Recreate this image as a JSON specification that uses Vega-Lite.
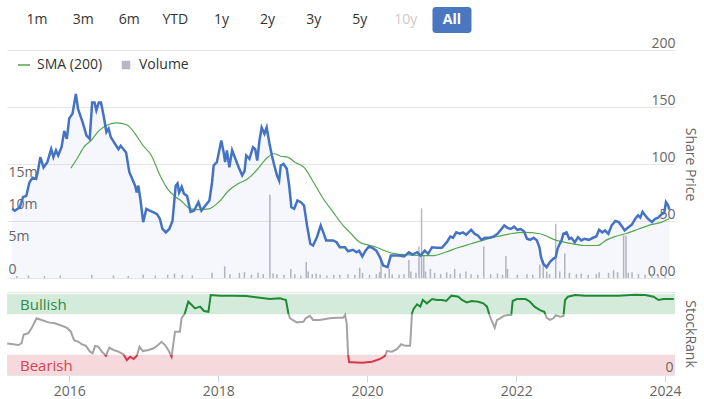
{
  "$schema": "https://vega.github.io/schema/vega-lite/v6.json",
  "padding": {"left": 3, "top": 7, "right": 5, "bottom": 0},
  "bounds": "flush",
  "config": {
    "font": "Open Sans",
    "view": {"stroke": null},
    "axis": {"labelColor": "#666666", "titleColor": "#666666", "labelFontSize": 14, "titleFontSize": 14, "titleFontWeight": "normal"}
  },
  "resolve": {"scale": {"color": "independent", "x": "independent", "y": "independent"}, "legend": {"color": "independent"}},
  "datasets": {
    "buttons": [{"label": "1m"}, {"label": "3m"}, {"label": "6m"}, {"label": "YTD"}, {"label": "1y"}, {"label": "2y"}, {"label": "3y"}, {"label": "5y"}, {"label": "10y"}, {"label": "All"}],
    "bands": [{"zone": "Bullish", "lo": 75, "hi": 100}, {"zone": "Bearish", "lo": 0, "hi": 25}],
    "price": [
      {"date": "2015-03-03", "close": 60.7}, {"date": "2015-03-16", "close": 59}, {"date": "2015-04-10", "close": 62}, {"date": "2015-04-26", "close": 71},
      {"date": "2015-05-12", "close": 72}, {"date": "2015-05-28", "close": 84}, {"date": "2015-06-13", "close": 88}, {"date": "2015-06-30", "close": 87},
      {"date": "2015-07-07", "close": 92}, {"date": "2015-07-21", "close": 106}, {"date": "2015-08-06", "close": 97}, {"date": "2015-08-25", "close": 101.6},
      {"date": "2015-09-13", "close": 113}, {"date": "2015-09-24", "close": 106}, {"date": "2015-10-07", "close": 112}, {"date": "2015-10-18", "close": 107.5},
      {"date": "2015-11-04", "close": 115}, {"date": "2015-11-17", "close": 129}, {"date": "2015-11-30", "close": 122}, {"date": "2015-12-12", "close": 140},
      {"date": "2015-12-28", "close": 144}, {"date": "2016-01-14", "close": 161.5}, {"date": "2016-01-25", "close": 148}, {"date": "2016-02-16", "close": 137},
      {"date": "2016-03-07", "close": 125}, {"date": "2016-03-23", "close": 122}, {"date": "2016-04-04", "close": 154}, {"date": "2016-04-16", "close": 154},
      {"date": "2016-04-25", "close": 147}, {"date": "2016-05-07", "close": 154}, {"date": "2016-05-18", "close": 154}, {"date": "2016-05-31", "close": 142.5},
      {"date": "2016-06-14", "close": 128}, {"date": "2016-06-25", "close": 131}, {"date": "2016-07-06", "close": 123.5}, {"date": "2016-07-27", "close": 117.7},
      {"date": "2016-08-13", "close": 113}, {"date": "2016-08-24", "close": 116}, {"date": "2016-09-07", "close": 113}, {"date": "2016-09-20", "close": 110},
      {"date": "2016-10-06", "close": 93}, {"date": "2016-10-17", "close": 88.4}, {"date": "2016-11-04", "close": 81}, {"date": "2016-11-12", "close": 75},
      {"date": "2016-11-20", "close": 81}, {"date": "2016-12-01", "close": 68}, {"date": "2016-12-14", "close": 49}, {"date": "2016-12-30", "close": 60.7},
      {"date": "2017-01-16", "close": 59}, {"date": "2017-02-02", "close": 57.7}, {"date": "2017-02-21", "close": 56}, {"date": "2017-03-07", "close": 52},
      {"date": "2017-03-20", "close": 43}, {"date": "2017-04-06", "close": 40}, {"date": "2017-04-23", "close": 43}, {"date": "2017-05-09", "close": 50},
      {"date": "2017-05-25", "close": 81}, {"date": "2017-06-03", "close": 83}, {"date": "2017-06-11", "close": 75}, {"date": "2017-06-24", "close": 80},
      {"date": "2017-07-05", "close": 74}, {"date": "2017-07-21", "close": 72}, {"date": "2017-08-07", "close": 58}, {"date": "2017-08-24", "close": 59},
      {"date": "2017-09-15", "close": 66.5}, {"date": "2017-09-30", "close": 59}, {"date": "2017-10-20", "close": 63.6}, {"date": "2017-11-09", "close": 68},
      {"date": "2017-11-22", "close": 84}, {"date": "2017-11-30", "close": 98.7}, {"date": "2017-12-16", "close": 101.6}, {"date": "2018-01-07", "close": 120.6},
      {"date": "2018-01-19", "close": 110}, {"date": "2018-01-26", "close": 101.6}, {"date": "2018-02-04", "close": 112}, {"date": "2018-02-16", "close": 97},
      {"date": "2018-03-02", "close": 112}, {"date": "2018-03-18", "close": 104.6}, {"date": "2018-04-04", "close": 97}, {"date": "2018-04-21", "close": 90},
      {"date": "2018-05-03", "close": 94}, {"date": "2018-05-11", "close": 107.5}, {"date": "2018-05-27", "close": 104.6}, {"date": "2018-06-14", "close": 114.7},
      {"date": "2018-06-25", "close": 113}, {"date": "2018-07-05", "close": 103}, {"date": "2018-07-16", "close": 120.6}, {"date": "2018-07-27", "close": 132},
      {"date": "2018-08-10", "close": 126.5}, {"date": "2018-08-21", "close": 132}, {"date": "2018-09-04", "close": 117.7}, {"date": "2018-09-16", "close": 107.5},
      {"date": "2018-09-28", "close": 98.7}, {"date": "2018-10-11", "close": 90}, {"date": "2018-10-22", "close": 85.5}, {"date": "2018-10-30", "close": 98.7},
      {"date": "2018-11-13", "close": 100}, {"date": "2018-11-29", "close": 95.8}, {"date": "2018-12-11", "close": 81}, {"date": "2018-12-22", "close": 62},
      {"date": "2019-01-05", "close": 60.7}, {"date": "2019-01-21", "close": 68}, {"date": "2019-02-07", "close": 66.5}, {"date": "2019-02-23", "close": 63.6},
      {"date": "2019-03-10", "close": 46}, {"date": "2019-03-26", "close": 30}, {"date": "2019-04-09", "close": 28.5}, {"date": "2019-04-28", "close": 35.8},
      {"date": "2019-05-17", "close": 46}, {"date": "2019-05-30", "close": 40}, {"date": "2019-06-13", "close": 33}, {"date": "2019-07-18", "close": 33},
      {"date": "2019-08-04", "close": 31.4}, {"date": "2019-08-20", "close": 27}, {"date": "2019-09-15", "close": 27}, {"date": "2019-09-30", "close": 23.5},
      {"date": "2019-10-25", "close": 24.7}, {"date": "2019-11-11", "close": 22.6}, {"date": "2019-11-24", "close": 24}, {"date": "2019-12-10", "close": 18.9},
      {"date": "2019-12-26", "close": 24}, {"date": "2020-01-12", "close": 27.6}, {"date": "2020-01-29", "close": 26.5}, {"date": "2020-02-18", "close": 24},
      {"date": "2020-03-07", "close": 18.2}, {"date": "2020-03-23", "close": 11}, {"date": "2020-04-14", "close": 9.5}, {"date": "2020-04-30", "close": 19.7},
      {"date": "2020-05-16", "close": 19.7}, {"date": "2020-06-10", "close": 19.7}, {"date": "2020-07-05", "close": 19}, {"date": "2020-07-29", "close": 22.6},
      {"date": "2020-08-15", "close": 20.6}, {"date": "2020-09-09", "close": 22.6}, {"date": "2020-09-25", "close": 19.7}, {"date": "2020-10-16", "close": 24},
      {"date": "2020-11-02", "close": 21.2}, {"date": "2020-11-21", "close": 27}, {"date": "2020-12-15", "close": 26.5}, {"date": "2021-01-09", "close": 26.5},
      {"date": "2021-02-03", "close": 31.4}, {"date": "2021-02-20", "close": 36.4}, {"date": "2021-03-06", "close": 35.3}, {"date": "2021-03-22", "close": 40},
      {"date": "2021-04-08", "close": 38.8}, {"date": "2021-04-24", "close": 40}, {"date": "2021-05-10", "close": 38}, {"date": "2021-06-04", "close": 42.3},
      {"date": "2021-06-21", "close": 38.8}, {"date": "2021-07-07", "close": 37.3}, {"date": "2021-07-26", "close": 33.5}, {"date": "2021-08-12", "close": 35.3},
      {"date": "2021-09-03", "close": 35.3}, {"date": "2021-09-24", "close": 36.4}, {"date": "2021-10-13", "close": 38.8}, {"date": "2021-10-30", "close": 42.3},
      {"date": "2021-11-16", "close": 46}, {"date": "2021-12-02", "close": 44}, {"date": "2021-12-18", "close": 43}, {"date": "2022-01-04", "close": 45},
      {"date": "2022-01-20", "close": 42.3}, {"date": "2022-02-06", "close": 43}, {"date": "2022-02-22", "close": 41}, {"date": "2022-03-09", "close": 34.4},
      {"date": "2022-03-25", "close": 33.5}, {"date": "2022-04-11", "close": 35.3}, {"date": "2022-04-27", "close": 33}, {"date": "2022-05-10", "close": 27},
      {"date": "2022-05-18", "close": 18.2}, {"date": "2022-05-29", "close": 12.5}, {"date": "2022-06-15", "close": 9.5}, {"date": "2022-07-01", "close": 13.9},
      {"date": "2022-07-17", "close": 16.8}, {"date": "2022-07-30", "close": 18.2}, {"date": "2022-08-08", "close": 25.6}, {"date": "2022-08-19", "close": 30},
      {"date": "2022-08-28", "close": 33}, {"date": "2022-09-06", "close": 38.8}, {"date": "2022-09-22", "close": 40}, {"date": "2022-10-05", "close": 34.4},
      {"date": "2022-10-16", "close": 35.3}, {"date": "2022-11-02", "close": 31.4}, {"date": "2022-11-18", "close": 35.8}, {"date": "2022-12-04", "close": 33},
      {"date": "2022-12-20", "close": 34.4}, {"date": "2023-01-11", "close": 33.5}, {"date": "2023-02-01", "close": 35.3}, {"date": "2023-02-17", "close": 36.4},
      {"date": "2023-03-03", "close": 42.3}, {"date": "2023-03-19", "close": 40}, {"date": "2023-04-01", "close": 41.7}, {"date": "2023-04-18", "close": 38.8},
      {"date": "2023-05-04", "close": 46}, {"date": "2023-05-23", "close": 50}, {"date": "2023-06-09", "close": 49}, {"date": "2023-06-26", "close": 45},
      {"date": "2023-07-08", "close": 41.7}, {"date": "2023-07-24", "close": 44}, {"date": "2023-08-14", "close": 47}, {"date": "2023-08-30", "close": 52},
      {"date": "2023-09-13", "close": 55}, {"date": "2023-09-24", "close": 53}, {"date": "2023-10-05", "close": 58}, {"date": "2023-10-18", "close": 55},
      {"date": "2023-11-01", "close": 52}, {"date": "2023-11-21", "close": 49}, {"date": "2023-12-07", "close": 52}, {"date": "2023-12-22", "close": 53},
      {"date": "2024-01-09", "close": 56}, {"date": "2024-01-21", "close": 57}, {"date": "2024-01-30", "close": 66.5}, {"date": "2024-02-10", "close": 63.6},
      {"date": "2024-02-16", "close": 60}
    ],
    "sma": [
      {"date": "2015-12-20", "sma": 96.3}, {"date": "2016-01-21", "sma": 105}, {"date": "2016-02-24", "sma": 115}, {"date": "2016-03-29", "sma": 120.6},
      {"date": "2016-05-07", "sma": 129}, {"date": "2016-06-16", "sma": 134}, {"date": "2016-08-05", "sma": 136}, {"date": "2016-09-23", "sma": 134.4},
      {"date": "2016-11-04", "sma": 126.5}, {"date": "2016-12-14", "sma": 116}, {"date": "2017-01-24", "sma": 107.5}, {"date": "2017-03-04", "sma": 91.4},
      {"date": "2017-04-15", "sma": 78}, {"date": "2017-05-25", "sma": 71}, {"date": "2017-06-19", "sma": 68}, {"date": "2017-08-07", "sma": 60.7},
      {"date": "2017-09-18", "sma": 60}, {"date": "2017-11-06", "sma": 60.7}, {"date": "2017-12-25", "sma": 66.5}, {"date": "2018-02-13", "sma": 76.8},
      {"date": "2018-04-01", "sma": 82.6}, {"date": "2018-05-19", "sma": 87}, {"date": "2018-07-08", "sma": 95.8}, {"date": "2018-08-26", "sma": 106},
      {"date": "2018-09-28", "sma": 109}, {"date": "2018-10-30", "sma": 106.8}, {"date": "2018-12-03", "sma": 106}, {"date": "2019-01-13", "sma": 101},
      {"date": "2019-02-23", "sma": 97}, {"date": "2019-04-11", "sma": 84}, {"date": "2019-05-30", "sma": 69.5}, {"date": "2019-07-18", "sma": 57.7},
      {"date": "2019-09-06", "sma": 46}, {"date": "2019-10-09", "sma": 40}, {"date": "2019-11-27", "sma": 31.4}, {"date": "2020-01-07", "sma": 29},
      {"date": "2020-02-18", "sma": 27}, {"date": "2020-04-06", "sma": 23.5}, {"date": "2020-05-25", "sma": 21.2}, {"date": "2020-07-29", "sma": 20.3},
      {"date": "2020-10-03", "sma": 19.7}, {"date": "2020-11-30", "sma": 19.7}, {"date": "2021-01-26", "sma": 22.6}, {"date": "2021-03-30", "sma": 26.5},
      {"date": "2021-06-04", "sma": 30}, {"date": "2021-08-09", "sma": 33.5}, {"date": "2021-10-13", "sma": 36.4}, {"date": "2021-12-18", "sma": 38.8},
      {"date": "2022-02-22", "sma": 40}, {"date": "2022-05-12", "sma": 38.8}, {"date": "2022-08-03", "sma": 33}, {"date": "2022-10-24", "sma": 30},
      {"date": "2022-12-28", "sma": 28.5}, {"date": "2023-02-25", "sma": 28.5}, {"date": "2023-04-05", "sma": 33}, {"date": "2023-05-23", "sma": 36.4},
      {"date": "2023-07-12", "sma": 38.8}, {"date": "2023-09-16", "sma": 43}, {"date": "2023-11-21", "sma": 47}, {"date": "2024-01-09", "sma": 49},
      {"date": "2024-02-14", "sma": 52}
    ],
    "volume": [
      {"date": "2015-03-26", "volume": 300000}, {"date": "2015-05-23", "volume": 400000}, {"date": "2015-08-11", "volume": 300000}, {"date": "2015-10-28", "volume": 400000},
      {"date": "2016-04-02", "volume": 500000}, {"date": "2016-07-19", "volume": 400000}, {"date": "2016-10-01", "volume": 300000}, {"date": "2016-12-14", "volume": 500000},
      {"date": "2017-02-12", "volume": 400000}, {"date": "2017-04-15", "volume": 500000}, {"date": "2017-05-19", "volume": 700000}, {"date": "2017-06-27", "volume": 500000},
      {"date": "2017-08-16", "volume": 400000}, {"date": "2017-11-22", "volume": 800000}, {"date": "2018-01-24", "volume": 1800000}, {"date": "2018-02-19", "volume": 600000},
      {"date": "2018-04-07", "volume": 800000}, {"date": "2018-05-02", "volume": 900000}, {"date": "2018-06-06", "volume": 500000}, {"date": "2018-07-09", "volume": 800000},
      {"date": "2018-08-04", "volume": 600000}, {"date": "2018-09-06", "volume": 12900000}, {"date": "2018-09-22", "volume": 700000}, {"date": "2018-10-11", "volume": 600000},
      {"date": "2018-11-15", "volume": 500000}, {"date": "2018-12-19", "volume": 1400000}, {"date": "2019-01-08", "volume": 600000}, {"date": "2019-02-07", "volume": 400000},
      {"date": "2019-03-06", "volume": 2500000}, {"date": "2019-03-16", "volume": 1000000}, {"date": "2019-04-05", "volume": 600000}, {"date": "2019-04-24", "volume": 700000},
      {"date": "2019-05-14", "volume": 500000}, {"date": "2019-06-17", "volume": 400000}, {"date": "2019-07-21", "volume": 500000}, {"date": "2019-08-20", "volume": 500000},
      {"date": "2019-09-30", "volume": 600000}, {"date": "2019-11-03", "volume": 500000}, {"date": "2019-11-27", "volume": 1600000}, {"date": "2019-12-11", "volume": 800000},
      {"date": "2020-01-15", "volume": 500000}, {"date": "2020-02-18", "volume": 600000}, {"date": "2020-03-05", "volume": 900000}, {"date": "2020-03-12", "volume": 2600000},
      {"date": "2020-04-02", "volume": 700000}, {"date": "2020-04-22", "volume": 1400000}, {"date": "2020-05-07", "volume": 600000}, {"date": "2020-06-10", "volume": 500000},
      {"date": "2020-07-05", "volume": 600000}, {"date": "2020-07-29", "volume": 2800000}, {"date": "2020-08-08", "volume": 1000000}, {"date": "2020-09-02", "volume": 800000},
      {"date": "2020-09-17", "volume": 4900000}, {"date": "2020-09-30", "volume": 10800000}, {"date": "2020-10-11", "volume": 3400000}, {"date": "2020-10-20", "volume": 1000000},
      {"date": "2020-11-13", "volume": 1400000}, {"date": "2020-12-04", "volume": 800000}, {"date": "2021-01-03", "volume": 600000}, {"date": "2021-02-02", "volume": 900000},
      {"date": "2021-02-21", "volume": 600000}, {"date": "2021-03-14", "volume": 1400000}, {"date": "2021-04-10", "volume": 700000}, {"date": "2021-05-09", "volume": 1000000},
      {"date": "2021-06-04", "volume": 600000}, {"date": "2021-07-07", "volume": 500000}, {"date": "2021-08-06", "volume": 4900000}, {"date": "2021-09-09", "volume": 600000},
      {"date": "2021-10-13", "volume": 700000}, {"date": "2021-11-07", "volume": 500000}, {"date": "2021-11-24", "volume": 3400000}, {"date": "2021-12-02", "volume": 1400000},
      {"date": "2022-01-20", "volume": 500000}, {"date": "2022-03-09", "volume": 600000}, {"date": "2022-04-07", "volume": 500000}, {"date": "2022-05-12", "volume": 2100000},
      {"date": "2022-05-29", "volume": 2800000}, {"date": "2022-06-15", "volume": 1000000}, {"date": "2022-06-29", "volume": 600000}, {"date": "2022-07-30", "volume": 8400000},
      {"date": "2022-08-19", "volume": 1000000}, {"date": "2022-09-13", "volume": 3800000}, {"date": "2022-10-06", "volume": 800000}, {"date": "2022-11-10", "volume": 600000},
      {"date": "2022-12-04", "volume": 700000}, {"date": "2023-01-08", "volume": 500000}, {"date": "2023-02-17", "volume": 600000}, {"date": "2023-03-03", "volume": 900000},
      {"date": "2023-04-19", "volume": 800000}, {"date": "2023-05-14", "volume": 1200000}, {"date": "2023-06-03", "volume": 900000}, {"date": "2023-07-03", "volume": 6600000},
      {"date": "2023-07-15", "volume": 6600000}, {"date": "2023-07-26", "volume": 800000}, {"date": "2023-08-14", "volume": 900000}, {"date": "2023-09-15", "volume": 600000},
      {"date": "2023-10-18", "volume": 500000}, {"date": "2023-11-21", "volume": 500000}, {"date": "2023-12-22", "volume": 600000}, {"date": "2024-01-25", "volume": 600000}
    ],
    "rank": [
      {"date": "2015-03-03", "rank": 39}, {"date": "2015-04-01", "rank": 38}, {"date": "2015-04-26", "rank": 37}, {"date": "2015-05-12", "rank": 39},
      {"date": "2015-05-23", "rank": 50}, {"date": "2015-06-14", "rank": 51.5}, {"date": "2015-06-30", "rank": 57.6}, {"date": "2015-07-25", "rank": 70},
      {"date": "2015-08-19", "rank": 68}, {"date": "2015-09-21", "rank": 65}, {"date": "2015-10-23", "rank": 63.8}, {"date": "2015-11-25", "rank": 60.9},
      {"date": "2015-12-20", "rank": 58.4}, {"date": "2016-01-09", "rank": 53.5}, {"date": "2016-01-25", "rank": 43}, {"date": "2016-02-16", "rank": 41},
      {"date": "2016-03-02", "rank": 38}, {"date": "2016-03-23", "rank": 36}, {"date": "2016-04-12", "rank": 28.8}, {"date": "2016-04-25", "rank": 26.8},
      {"date": "2016-05-07", "rank": 36}, {"date": "2016-05-22", "rank": 35}, {"date": "2016-06-09", "rank": 28.8}, {"date": "2016-06-29", "rank": 23.8},
      {"date": "2016-07-16", "rank": 33.7}, {"date": "2016-08-05", "rank": 30.9}, {"date": "2016-08-29", "rank": 28.8}, {"date": "2016-09-23", "rank": 25.5},
      {"date": "2016-10-10", "rank": 18.5}, {"date": "2016-10-26", "rank": 22.6}, {"date": "2016-11-12", "rank": 19.8}, {"date": "2016-11-28", "rank": 23.8},
      {"date": "2016-12-11", "rank": 35}, {"date": "2016-12-27", "rank": 29.6}, {"date": "2017-01-24", "rank": 30.9}, {"date": "2017-02-18", "rank": 33},
      {"date": "2017-03-12", "rank": 37}, {"date": "2017-03-29", "rank": 41}, {"date": "2017-04-15", "rank": 37}, {"date": "2017-05-01", "rank": 30.9},
      {"date": "2017-05-17", "rank": 22.6}, {"date": "2017-05-25", "rank": 37}, {"date": "2017-06-03", "rank": 53.5}, {"date": "2017-06-27", "rank": 53.5},
      {"date": "2017-07-05", "rank": 70}, {"date": "2017-07-21", "rank": 76}, {"date": "2017-08-07", "rank": 90.5}, {"date": "2017-08-24", "rank": 86.4},
      {"date": "2017-09-09", "rank": 82.3}, {"date": "2017-10-04", "rank": 84.4}, {"date": "2017-10-23", "rank": 79}, {"date": "2017-11-14", "rank": 78},
      {"date": "2017-11-25", "rank": 98.8}, {"date": "2018-01-10", "rank": 98}, {"date": "2018-03-14", "rank": 98}, {"date": "2018-05-19", "rank": 97.5},
      {"date": "2018-07-24", "rank": 95.4}, {"date": "2018-09-12", "rank": 93.8}, {"date": "2018-10-30", "rank": 94.7}, {"date": "2018-11-29", "rank": 92.6},
      {"date": "2018-12-11", "rank": 76}, {"date": "2018-12-19", "rank": 70}, {"date": "2019-01-21", "rank": 65}, {"date": "2019-02-23", "rank": 65.8},
      {"date": "2019-03-06", "rank": 70}, {"date": "2019-03-26", "rank": 73}, {"date": "2019-04-11", "rank": 68}, {"date": "2019-05-14", "rank": 68},
      {"date": "2019-07-02", "rank": 70}, {"date": "2019-08-04", "rank": 70.7}, {"date": "2019-09-06", "rank": 70.7}, {"date": "2019-09-15", "rank": 74},
      {"date": "2019-09-23", "rank": 63.8}, {"date": "2019-09-30", "rank": 24.7}, {"date": "2019-10-05", "rank": 15.6}, {"date": "2019-10-18", "rank": 15.6},
      {"date": "2019-12-07", "rank": 15}, {"date": "2020-01-25", "rank": 16.4}, {"date": "2020-03-05", "rank": 19.8}, {"date": "2020-03-29", "rank": 23.8},
      {"date": "2020-04-07", "rank": 29.6}, {"date": "2020-05-02", "rank": 28.8}, {"date": "2020-05-26", "rank": 32}, {"date": "2020-06-16", "rank": 38},
      {"date": "2020-07-06", "rank": 36}, {"date": "2020-07-30", "rank": 36}, {"date": "2020-08-08", "rank": 76}, {"date": "2020-08-16", "rank": 81.5},
      {"date": "2020-09-02", "rank": 87.3}, {"date": "2020-09-18", "rank": 84.4}, {"date": "2020-09-30", "rank": 92.6}, {"date": "2020-10-20", "rank": 88.5},
      {"date": "2020-11-15", "rank": 93.8}, {"date": "2020-12-09", "rank": 92.6}, {"date": "2021-01-03", "rank": 92.6}, {"date": "2021-01-23", "rank": 91.4},
      {"date": "2021-02-18", "rank": 98}, {"date": "2021-03-24", "rank": 96.7}, {"date": "2021-04-10", "rank": 92.6}, {"date": "2021-05-04", "rank": 89.7},
      {"date": "2021-05-28", "rank": 91.4}, {"date": "2021-06-30", "rank": 90.5}, {"date": "2021-07-24", "rank": 88.5}, {"date": "2021-08-11", "rank": 84.4},
      {"date": "2021-08-22", "rank": 75}, {"date": "2021-09-05", "rank": 65.8}, {"date": "2021-09-18", "rank": 58.4}, {"date": "2021-09-29", "rank": 68},
      {"date": "2021-10-15", "rank": 70}, {"date": "2021-11-01", "rank": 73}, {"date": "2021-11-22", "rank": 74}, {"date": "2021-12-08", "rank": 74},
      {"date": "2021-12-15", "rank": 91.4}, {"date": "2022-01-05", "rank": 93.8}, {"date": "2022-02-16", "rank": 93.8}, {"date": "2022-03-10", "rank": 90.5},
      {"date": "2022-04-01", "rank": 84.4}, {"date": "2022-04-28", "rank": 80.2}, {"date": "2022-05-19", "rank": 78}, {"date": "2022-05-31", "rank": 70.7},
      {"date": "2022-06-16", "rank": 68}, {"date": "2022-07-03", "rank": 70}, {"date": "2022-07-14", "rank": 74}, {"date": "2022-08-05", "rank": 72},
      {"date": "2022-08-21", "rank": 73}, {"date": "2022-08-29", "rank": 92.6}, {"date": "2022-09-12", "rank": 96.7}, {"date": "2022-10-17", "rank": 98.8},
      {"date": "2022-12-06", "rank": 98}, {"date": "2023-02-26", "rank": 98}, {"date": "2023-05-17", "rank": 98}, {"date": "2023-08-07", "rank": 99},
      {"date": "2023-09-26", "rank": 98.8}, {"date": "2023-11-06", "rank": 96.7}, {"date": "2023-11-30", "rank": 92.6}, {"date": "2023-12-25", "rank": 93.8},
      {"date": "2024-02-13", "rank": 93.8}
    ]
  },
  "spacing": 17,
  "vconcat": [
    {
      "width": 475,
      "height": 26,
      "data": {"name": "buttons"},
      "encoding": {
        "x": {
          "field": "label", "type": "nominal", "sort": null, "axis": null,
          "scale": {"type": "band", "paddingInner": 0.154, "paddingOuter": 0.228, "domain": ["1m", "3m", "6m", "YTD", "1y", "2y", "3y", "5y", "10y", "All"]}
        }
      },
      "layer": [
        {"transform": [{"filter": "datum.label === 'All'"}], "mark": {"type": "rect", "color": "#4a77bf", "cornerRadius": 3}},
        {
          "transform": [{"filter": "datum.label !== 'All'"}],
          "mark": {"type": "text", "fontSize": 14},
          "encoding": {
            "text": {"field": "label"},
            "color": {"condition": {"test": "datum.label === '10y'", "value": "#cccccc"}, "value": "#333333"}
          }
        },
        {
          "transform": [{"filter": "datum.label === 'All'"}],
          "mark": {"type": "text", "fontSize": 14, "fontWeight": "bold", "color": "#ffffff"},
          "encoding": {"text": {"field": "label"}}
        }
      ]
    },
    {
      "spacing": 14,
      "bounds": "flush",
      "resolve": {"scale": {"color": "independent", "x": "independent", "y": "independent"}, "legend": {"color": "independent"}},
      "vconcat": [
        {
          "width": 668,
          "height": 228,
          "resolve": {"scale": {"y": "independent"}},
          "layer": [
            {
              "data": {"name": "volume"},
              "mark": {"type": "bar", "size": 1.5},
              "encoding": {
                "x": {"field": "date", "type": "temporal", "axis": null,
                  "scale": {"domain": [{"year": 2015, "month": 3, "date": 2}, {"year": 2024, "month": 2, "date": 19}]}},
                "y": {"field": "volume", "type": "quantitative",
                  "scale": {"domain": [0, 35350000], "nice": false},
                  "axis": {"orient": "left", "values": [0, 5000000, 10000000, 15000000],
                    "labelExpr": "datum.value == 0 ? '0' : (datum.value / 1000000) + 'm'",
                    "labelAlign": "left", "labelPadding": -1, "tickSize": 0, "ticks": false, "domain": false, "grid": false,
                    "labelBaseline": "bottom", "labelOffset": -2, "title": null}},
                "color": {"datum": "Volume", "type": "nominal",
                  "scale": {"domain": ["SMA (200)", "Volume"], "range": ["#52a84a", "#b8b8c0"]},
                  "legend": {"orient": "none", "legendX": 10, "legendY": 8, "direction": "horizontal", "title": null,
                    "labelFontSize": 14, "labelColor": "#333333", "symbolSize": 144, "labelOffset": 6, "columnPadding": 16, "padding": 0,
                    "encode": {"symbols": {"update": {
                      "shape": {"signal": "datum.value === 'Volume' ? 'square' : 'stroke'"},
                      "size": {"signal": "datum.value === 'Volume' ? 49 : 144"},
                      "strokeWidth": {"value": 1.5},
                      "stroke": {"signal": "datum.value === 'Volume' ? 'transparent' : '#52a84a'"},
                      "fill": {"signal": "datum.value === 'Volume' ? '#b8b8c0' : 'transparent'"}
                    }}}}}
              }
            },
            {
              "layer": [
                {
                  "data": {"name": "price"},
                  "mark": {"type": "area", "color": "#4472c4", "opacity": 0.055},
                  "encoding": {
                    "x": {"field": "date", "type": "temporal"},
                    "y": {"field": "close", "type": "quantitative",
                      "scale": {"domain": [0, 200], "nice": false},
                      "axis": {"orient": "right", "values": [0, 50, 100, 150, 200], "grid": true, "gridColor": "#e6e6e6",
                        "labelAlign": "right", "labelPadding": 0, "tickSize": 0, "ticks": false, "domain": false,
                        "labelBaseline": "bottom", "labelExpr": "datum.value == 0 ? '0.00' : datum.label",
                        "title": "Share Price", "titlePadding": 7}}
                  }
                },
                {
                  "data": {"name": "sma"},
                  "mark": {"type": "line", "strokeWidth": 1.2, "interpolate": "monotone"},
                  "encoding": {
                    "x": {"field": "date", "type": "temporal"},
                    "y": {"field": "sma", "type": "quantitative"},
                    "color": {"datum": "SMA (200)", "type": "nominal"}
                  }
                },
                {
                  "data": {"name": "price"},
                  "mark": {"type": "line", "color": "#4472c4", "strokeWidth": 2.5},
                  "encoding": {
                    "x": {"field": "date", "type": "temporal"},
                    "y": {"field": "close", "type": "quantitative"}
                  }
                }
              ]
            }
          ]
        },
        {
          "width": 668,
          "height": 83,
          "layer": [
            {
              "data": {"name": "bands"},
              "mark": {"type": "rect"},
              "encoding": {
                "y": {"field": "lo", "type": "quantitative",
                  "scale": {"domain": [0, 102.5], "nice": false},
                  "axis": {"orient": "right", "values": [0, 102.5], "labelExpr": "datum.value == 0 ? '0' : ''",
                    "grid": true, "gridColor": "#e6e6e6", "ticks": false, "tickSize": 0, "domain": false, "zindex": 1,
                    "labelAlign": "right", "labelPadding": -2, "labelBaseline": "bottom", "labelOffset": -1,
                    "title": "StockRank", "titlePadding": 7}},
                "y2": {"field": "hi"},
                "color": {"field": "zone", "type": "nominal", "scale": {"domain": ["Bullish", "Bearish"], "range": ["#d4ebdc", "#f6d9dc"]}, "legend": null}
              }
            },
            {
              "data": {"name": "bands"},
              "mark": {"type": "text", "align": "left", "baseline": "top", "dx": 13, "dy": 4, "fontSize": 15},
              "encoding": {
                "x": {"datum": {"year": 2015, "month": 3, "date": 2}, "type": "temporal"},
                "y": {"field": "hi", "type": "quantitative"},
                "text": {"field": "zone"},
                "color": {"condition": {"test": "datum.zone === 'Bullish'", "value": "#2e8b45"}, "value": "#d9414f"}
              }
            },
            {
              "data": {"name": "rank"},
              "mark": {"type": "line", "strokeWidth": 2,
                "color": {"gradient": "linear", "x1": 0, "y1": 0, "x2": 0, "y2": 1,
                  "stops": [
                    {"offset": 0, "color": "#1f8a32"}, {"offset": 0.2857, "color": "#1f8a32"},
                    {"offset": 0.2857, "color": "#a3a3a3"}, {"offset": 0.881, "color": "#a3a3a3"},
                    {"offset": 0.881, "color": "#d6374a"}, {"offset": 1, "color": "#d6374a"}
                  ]}},
              "encoding": {
                "x": {"field": "date", "type": "temporal",
                  "scale": {"domain": [{"year": 2015, "month": 3, "date": 2}, {"year": 2024, "month": 2, "date": 19}]},
                  "axis": {"values": [{"year": 2016}, {"year": 2018}, {"year": 2020}, {"year": 2022}, {"year": 2024}],
                    "format": "%Y", "tickSize": 7, "tickColor": "#ccd6eb", "domain": false, "grid": false,
                    "labelPadding": 2, "labelFlush": false, "title": null}},
                "y": {"field": "rank", "type": "quantitative"}
              }
            }
          ]
        }
      ]
    }
  ]
}
